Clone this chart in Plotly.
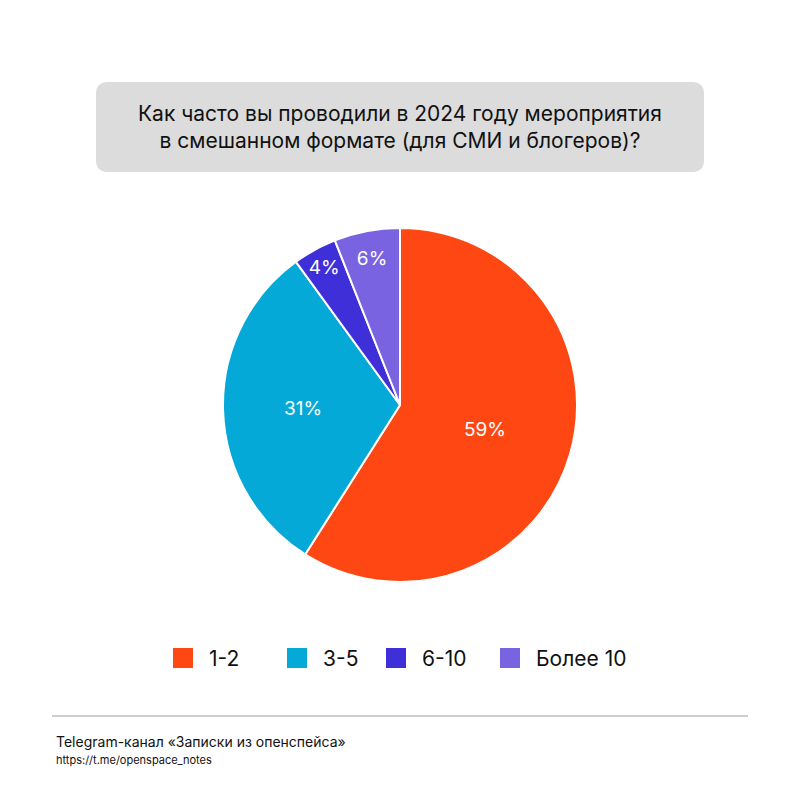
import plotly.graph_objects as go

labels = ["1-2", "3-5", "6-10", "Более 10"]
values = [59, 31, 4, 6]
colors = ["#FF4713", "#05A9D8", "#3F2FD8", "#7A63E0"]
legend_x = [173, 287, 386, 500]

O = 8  # page body margin compensation
W = 800

def px(x): return (x - O) / W
def py(y): return 1 - (y - O) / W

fig = go.Figure(go.Pie(
    labels=labels, values=values, sort=False, direction="clockwise", rotation=0,
    marker=dict(colors=colors, line=dict(color="white", width=2)),
    texttemplate="%{percent:.0%}", textposition="inside", insidetextorientation="horizontal",
    textfont=dict(color="white", size=19, family="Inter"),
    domain=dict(x=[px(223), px(577)], y=[py(582), py(228)]),
    showlegend=False,
))

def rrect(x0, y0, x1, y1, r):
    x0 -= O; x1 -= O; y0 -= O; y1 -= O
    return (f"M{x0+r},{y0} L{x1-r},{y0} Q{x1},{y0} {x1},{y0+r} L{x1},{y1-r} Q{x1},{y1} {x1-r},{y1} "
            f"L{x0+r},{y1} Q{x0},{y1} {x0},{y1-r} L{x0},{y0+r} Q{x0},{y0} {x0+r},{y0} Z")

shapes = [
    dict(type="path", xref="x", yref="y", path=rrect(96, 82, 704, 172, 12),
         fillcolor="#DCDCDC", line=dict(width=0), layer="below"),
    dict(type="line", xref="x", yref="y", x0=52-O, x1=748-O, y0=716-O, y1=716-O,
         line=dict(color="#BDBDBD", width=1.5)),
]
annotations = [
    dict(x=400-O, y=127-O, xref="x", yref="y", showarrow=False,
         text="Как часто вы проводили в 2024 году мероприятия<br>в смешанном формате (для СМИ и блогеров)?",
         font=dict(size=21, color="#111"), align="center"),
    dict(x=54-O, y=741-O, xref="x", yref="y", showarrow=False, xanchor="left",
         text="Telegram-канал «Записки из опенспейса»", font=dict(size=14, color="#111")),
    dict(x=54-O, y=760-O, xref="x", yref="y", showarrow=False, xanchor="left",
         text="https://t.me/openspace_notes", font=dict(size=11, color="#111")),
]
for lab, col, lx in zip(labels, colors, legend_x):
    shapes.append(dict(type="rect", xref="x", yref="y", x0=lx-O, x1=lx+20-O, y0=648-O, y1=668-O,
                       fillcolor=col, line=dict(width=0)))
    annotations.append(dict(x=lx+34-O, y=658-O, xref="x", yref="y", showarrow=False, xanchor="left",
                            text=lab, font=dict(size=21, color="#111")))

fig.update_layout(
    width=W, height=W, margin=dict(l=0, r=0, t=0, b=0),
    paper_bgcolor="white", plot_bgcolor="white", font=dict(family="Inter", color="#111"),
    xaxis=dict(range=[0, W], visible=False, fixedrange=True),
    yaxis=dict(range=[W, 0], visible=False, fixedrange=True),
    shapes=shapes, annotations=annotations,
)
fig.write_html("out.html")
